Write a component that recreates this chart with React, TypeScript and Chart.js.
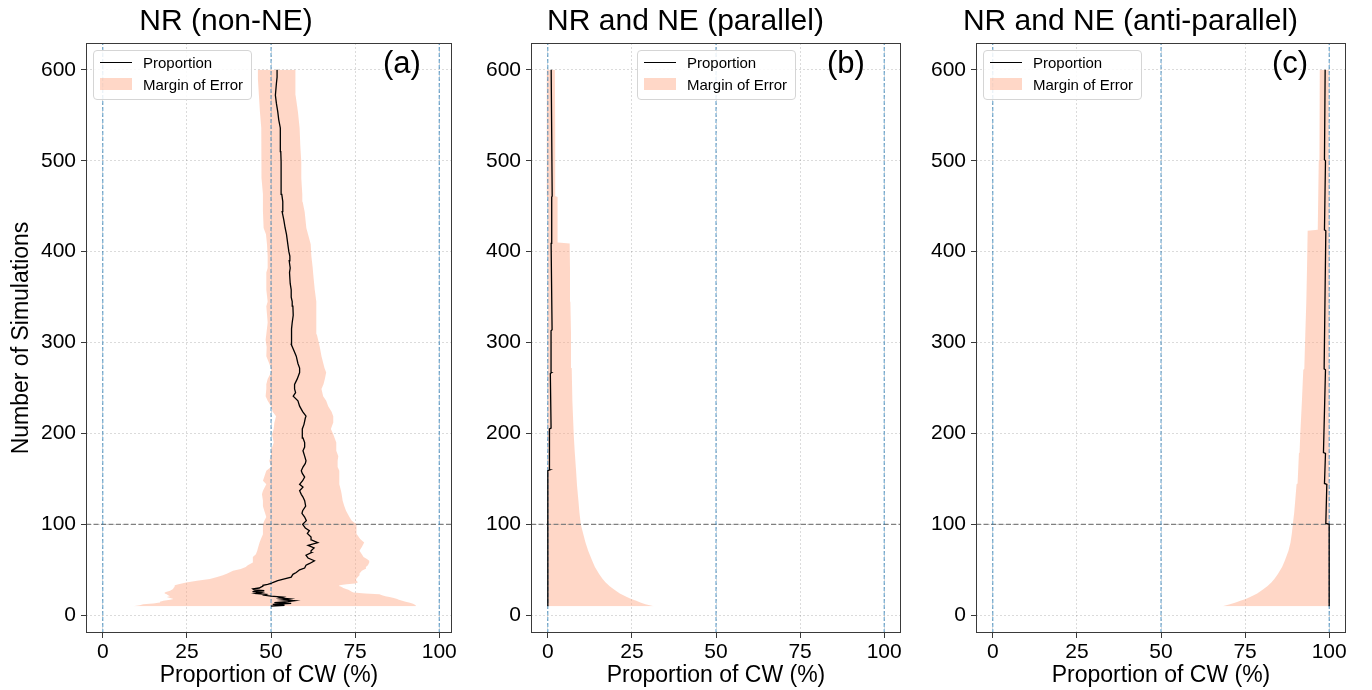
import React, { useEffect, useRef } from "react";
import { Chart, registerables } from "chart.js";

Chart.register(...registerables);

const FONT = '"Liberation Sans", Arial, Helvetica, sans-serif';
const BAND_COLOR = "rgba(255,160,122,0.42)";
const REF_BLUE = "rgba(31,119,180,0.75)";
const REF_GRAY = "#808080";
const GRID_COLOR = "rgba(0,0,0,0.14)";
const AXIS_COLOR = "#3a3a3a";

// ---- axes / labels ----
const X_TICKS = [0, 25, 50, 75, 100];
const Y_TICKS = [0, 100, 200, 300, 400, 500, 600];
const Y_MIN = -19.5;
const Y_MAX = 629.5;
const REF_X = [0, 50, 100];
const REF_Y = 100;
const X_LABEL = "Proportion of CW (%)";
const Y_LABEL = "Number of Simulations";
const LEGEND_LINE = "Proportion";
const LEGEND_BAND = "Margin of Error";
const TITLES = ["NR (non-NE)", "NR and NE (parallel)", "NR and NE (anti-parallel)"];
const PANEL_TAGS = ["(a)", "(b)", "(c)"];

// ---- panel (a): [simulations, proportion %] ----
const A_PROPORTION: [number, number][] = [
  [10, 50], [11, 54], [12, 50.5], [13, 56], [14, 51], [15, 55], [16, 57], [17, 53.5],
  [18, 55.5], [19, 52.5], [20, 53.5], [21, 50], [22, 48], [23, 48.6], [24, 45.5], [25, 47],
  [26, 44.5], [27, 48], [28, 45], [29, 44.6], [30, 46.5], [31, 47], [32, 47.6], [33, 47.6],
  [34, 49], [35, 50], [36, 50.5], [38, 52], [40, 54], [42, 56], [45, 56.5], [47, 57.5],
  [50, 58.5], [52, 60], [55, 60.4], [57, 61.5], [60, 62.9], [63, 61], [66, 60.4], [69, 62],
  [71, 61.9], [74, 62.8], [77, 61], [80, 63.9], [83, 62], [86, 61.9], [90, 60.8], [93, 61.4],
  [96, 60.2], [100, 59.4], [104, 60.5], [108, 60], [112, 59.2], [115, 59.4], [120, 60.3],
  [126, 60], [130, 59.5], [133, 59], [137, 58.5], [141, 59.5], [144, 58.5], [148, 59.4],
  [152, 60], [156, 59.3], [159, 59], [163, 59.5], [167, 60.2], [170, 60.4], [175, 60],
  [181, 59.5], [185, 60], [190, 60], [195, 59.5], [199, 59.3], [205, 59.3], [210, 59.8],
  [217, 60.2], [219, 60.4], [224, 59.4], [230, 58.5], [236, 58], [241, 56.6], [245, 57.3],
  [249, 57], [254, 57], [260, 57.8], [267, 58.5], [272, 58.5], [277, 58], [285, 57.5],
  [292, 56.7], [298, 56], [303, 56.1], [309, 56], [315, 56.2], [322, 56.3], [330, 56.6],
  [340, 56.5], [345, 56.3], [350, 56], [358, 56], [365, 55.7], [377, 55.5], [382, 55.7],
  [390, 55.4], [395, 55.6], [400, 55.3], [408, 55], [419, 54.6], [426, 54.2], [435, 53.8],
  [444, 53.3], [455, 53.5], [463, 53.2], [481, 53], [499, 53], [510, 52.9], [517, 52.8],
  [527, 52.8], [536, 52.7], [545, 52.3], [554, 52], [563, 51.6], [572, 51.3], [585, 51.6],
  [592, 51.8], [600, 51.8],
];
// [simulations, lower %, upper %]
const A_MARGIN: [number, number, number][] = [
  [10, 9, 93.1], [11, 11, 93], [12, 12, 92.5], [13, 15, 92], [14, 17, 91], [15, 17, 90],
  [16, 18, 89], [17, 20, 88], [18, 21, 87.5], [19, 20, 86.5], [20, 19, 85.2], [21, 20, 84],
  [22, 19.4, 83], [23, 19, 82.2], [24, 18.4, 78], [25, 18.4, 74.5], [26, 19, 74],
  [27, 20, 73.5], [28, 20.5, 73], [29, 20.9, 72.3], [30, 21, 71.5], [31, 21.2, 71],
  [32, 21.4, 70.5], [33, 21.4, 70.3], [34, 22.5, 72.5], [35, 23.5, 75], [36, 24.8, 75.8],
  [38, 28, 75.5], [40, 31.8, 75.3], [42, 34, 75.8], [44, 35.7, 76.3], [46, 37, 76.3],
  [49, 38.7, 77], [51, 41, 78], [53, 42.5, 78.2], [55, 43.1, 78.8], [58, 44.6, 79.2],
  [60, 44.6, 79.2], [62, 44.6, 78.5], [64, 44.6, 77.5], [67, 45.5, 77], [71, 45.9, 76.3],
  [75, 46.2, 77], [80, 46.6, 77.7], [84, 47, 76.5], [89, 47.6, 75.5], [93, 47.6, 75.5],
  [100, 47.6, 75.3], [104, 48, 74], [108, 48.6, 73.3], [115, 48, 72.3], [120, 47.6, 71.8],
  [126, 47.6, 71.3], [133, 47.3, 71], [137, 47.6, 70.8], [144, 48.6, 70.3], [148, 47.6, 70.3],
  [159, 48.6, 70.3], [163, 50, 69.8], [170, 49.5, 69.8], [175, 50, 70], [181, 50, 69.4],
  [190, 50.8, 69.4], [199, 50.3, 68.5], [205, 50.8, 67.8], [212, 51, 68.5], [219, 51.5, 68.5],
  [224, 50.5, 68], [230, 50, 67], [236, 49, 66.4], [241, 48.4, 65.5], [249, 48.6, 65],
  [254, 48.6, 65.6], [260, 49, 66], [267, 50, 66.4], [272, 50, 65.9], [285, 48.6, 65],
  [295, 48.7, 64.5], [303, 48.4, 64], [309, 48.6, 63.6], [322, 49, 63.5], [340, 48.6, 63.5],
  [345, 49, 63.4], [358, 48.6, 63], [377, 48.6, 62.5], [382, 49, 62.4], [395, 49, 62],
  [408, 48.8, 61.8], [419, 48.5, 61], [426, 47.8, 60.5], [444, 47.6, 60], [455, 47.6, 59.4],
  [463, 47.6, 59.3], [481, 47.3, 59], [499, 47.1, 59], [517, 47.1, 58.7], [536, 47.1, 58.5],
  [554, 46.7, 58], [572, 46.4, 57.3], [590, 46.1, 57.2], [600, 46.1, 57.3],
];

// ---- panel (b) ----
const B_PROPORTION: [number, number][] = [
  [10, 0], [159, 0], [160, 0.63], [205, 0.49], [206, 0.97], [266, 0.75], [267, 1.12],
  [313, 0.96], [314, 1.27], [409, 0.98], [410, 1.22], [460, 1.09], [461, 1.3], [600, 1.0],
];
const B_MARGIN: [number, number, number][] = [
  [10, 0, 31.5], [12, 0, 29], [14, 0, 27.5], [16, 0, 26.3], [18, 0, 24.8], [20, 0, 23.5],
  [24, 0, 21.4], [28, 0, 19.8], [32, 0, 18.4], [36, 0, 17.2], [40, 0, 16.3], [45, 0, 15.3],
  [53, 0, 14], [60, 0, 13.2], [71, 0, 12], [80, 0, 11.2], [90, 0, 10.5], [100, 0, 9.8],
  [113, 0, 9.4], [126, 0, 9.1], [142, 0, 8.7], [159, 0, 8.4], [180, 0, 8], [199, 0, 7.7],
  [236, 0, 7.3], [272, 0, 7.1], [309, 0, 6.9], [345, 0, 6.7], [380, 0, 6.6], [409, 0, 6.5],
  [410, 0, 3.0], [460, 0, 2.9], [461, -0.3, 2.3], [530, -0.3, 2.2], [600, -0.3, 2.1],
];

// ---- panel (c) ----
const C_PROPORTION: [number, number][] = [
  [10, 100], [100, 100], [101, 99.0], [144, 99.3], [145, 98.6], [178, 98.9], [179, 98.3],
  [270, 98.9], [271, 98.5], [423, 99.0], [424, 98.6], [500, 98.9], [501, 98.6], [600, 98.8],
];
const C_MARGIN: [number, number, number][] = [
  [10, 68.3, 100], [12, 70.5, 100], [14, 72.2, 100], [16, 73.6, 100], [18, 75.2, 100],
  [20, 76.5, 100], [24, 78.6, 100], [28, 80.2, 100], [32, 81.6, 100], [36, 82.8, 100],
  [40, 83.7, 100], [45, 84.7, 100], [53, 86, 100], [60, 86.8, 100], [71, 87.9, 100],
  [80, 88.5, 100], [90, 88.9, 100], [100, 89.2, 100], [113, 89.6, 100], [126, 89.9, 100],
  [144, 90.3, 100], [145, 90.6, 100], [178, 91, 100], [179, 91.2, 100], [199, 91.4, 100],
  [236, 91.9, 100], [270, 92.3, 100], [271, 92.6, 100], [309, 92.9, 100], [345, 93.2, 100],
  [380, 93.4, 100], [423, 93.6, 100], [424, 96.6, 100], [500, 96.9, 100], [501, 97.1, 99.9],
  [600, 97.2, 99.9],
];

type PanelCfg = {
  title: string;
  tag: string;
  line: [number, number][];
  band: [number, number, number][];
  xMin: number;
  xMax: number;
  canvasLeft: number;
  canvasWidth: number;
  yAxisWidth: number;
  padRight: number;
  showYTitle: boolean;
  legendLeft: number;
  tagCenter: number;
};

const PANELS: PanelCfg[] = [
  { title: TITLES[0], tag: PANEL_TAGS[0], line: A_PROPORTION, band: A_MARGIN, xMin: -5, xMax: 103.8,
    canvasLeft: 0, canvasWidth: 465, yAxisWidth: 86, padRight: 13, showYTitle: true, legendLeft: 93, tagCenter: 402 },
  { title: TITLES[1], tag: PANEL_TAGS[1], line: B_PROPORTION, band: B_MARGIN, xMin: -5, xMax: 105,
    canvasLeft: 470, canvasWidth: 445, yAxisWidth: 61, padRight: 14, showYTitle: false, legendLeft: 637, tagCenter: 846 },
  { title: TITLES[2], tag: PANEL_TAGS[2], line: C_PROPORTION, band: C_MARGIN, xMin: -5, xMax: 105,
    canvasLeft: 915, canvasWidth: 445, yAxisWidth: 61, padRight: 14, showYTitle: false, legendLeft: 983, tagCenter: 1290 },
];

const framePlugin = {
  id: "frame",
  afterDraw(chart: any) {
    const { ctx, chartArea: a } = chart;
    ctx.save();
    ctx.strokeStyle = AXIS_COLOR;
    ctx.lineWidth = 1;
    ctx.strokeRect(Math.round(a.left) + 0.5, Math.round(a.top) + 0.5,
      Math.round(a.right - a.left) - 1, Math.round(a.bottom - a.top) - 1);
    ctx.restore();
  },
};

function Panel({ cfg }: { cfg: PanelCfg }) {
  const ref = useRef<HTMLCanvasElement>(null);
  useEffect(() => {
    const canvas = ref.current;
    if (!canvas) return;
    const tickFont = { family: FONT, size: 21 };
    const titleFont = { family: FONT, size: 23 };
    const datasets: any[] = [
      ...REF_X.map((v) => ({
        data: [{ x: v, y: Y_MIN }, { x: v, y: Y_MAX }],
        borderColor: REF_BLUE, borderWidth: 1, borderDash: [4, 2], pointRadius: 0, fill: false, order: 1,
      })),
      {
        data: [{ x: cfg.xMin, y: REF_Y }, { x: cfg.xMax, y: REF_Y }],
        borderColor: REF_GRAY, borderWidth: 1.1, borderDash: [5, 2.5], pointRadius: 0, fill: false, order: 1,
      },
      {
        data: cfg.band.map((b) => ({ x: b[1], y: b[0] })),
        borderColor: "transparent", borderWidth: 0, pointRadius: 0, fill: false, order: 3,
      },
      {
        data: cfg.band.map((b) => ({ x: b[2], y: b[0] })),
        borderColor: "transparent", borderWidth: 0, pointRadius: 0, fill: "-1",
        backgroundColor: BAND_COLOR, order: 3,
      },
      {
        data: cfg.line.map((p) => ({ x: p[1], y: p[0] })),
        borderColor: "#000", borderWidth: 1.3, pointRadius: 0, fill: false, order: 0,
      },
    ];
    const chart = new Chart(canvas, {
      type: "line",
      data: { datasets },
      options: {
        animation: false,
        responsive: false,
        indexAxis: "y",
        layout: { padding: { left: 0, right: cfg.padRight, top: 0, bottom: 0 } },
        elements: { line: { tension: 0 } },
        plugins: {
          legend: { display: false },
          tooltip: { enabled: false },
          title: {
            display: true, text: cfg.title, color: "#000",
            font: { family: FONT, size: 30, weight: "normal" },
            padding: { top: 4, bottom: 3 },
          },
        },
        scales: {
          x: {
            type: "linear", min: cfg.xMin, max: cfg.xMax,
            afterBuildTicks: (ax: any) => { ax.ticks = X_TICKS.map((v) => ({ value: v })); },
            afterFit: (s: any) => { s.height = 57; },
            ticks: { font: tickFont, color: "#000", padding: 2, autoSkip: false, maxRotation: 0 },
            grid: { color: GRID_COLOR, tickColor: AXIS_COLOR, tickLength: 5, lineWidth: 1 },
            border: { display: false, dash: [2, 2] },
            title: { display: true, text: X_LABEL, color: "#000", font: titleFont, padding: { top: 0, bottom: 1 } },
          },
          y: {
            type: "linear", min: Y_MIN, max: Y_MAX,
            afterBuildTicks: (ax: any) => { ax.ticks = Y_TICKS.map((v) => ({ value: v })); },
            afterFit: (s: any) => { s.width = cfg.yAxisWidth; },
            ticks: { font: tickFont, color: "#000", padding: 5, autoSkip: false },
            grid: { color: GRID_COLOR, tickColor: AXIS_COLOR, tickLength: 5, lineWidth: 1 },
            border: { display: false, dash: [2, 2] },
            title: { display: cfg.showYTitle, text: Y_LABEL, color: "#000", font: titleFont, padding: { top: 8, bottom: 0 } },
          },
        },
      } as any,
      plugins: [framePlugin],
    });
    return () => chart.destroy();
  }, [cfg]);
  return (
    <canvas
      ref={ref}
      width={cfg.canvasWidth}
      height={690}
      style={{ position: "absolute", left: cfg.canvasLeft, top: 0, width: cfg.canvasWidth, height: 690, display: "block" }}
    />
  );
}

function Legend({ left }: { left: number }) {
  return (
    <div style={{
      position: "absolute", left, top: 50, width: 159, height: 50, boxSizing: "border-box",
      border: "1px solid #d5d5d5", borderRadius: 4, background: "rgba(255,255,255,0.85)",
      fontFamily: FONT, fontSize: 15, color: "#000",
    }}>
      <div style={{ position: "absolute", left: 6, top: 11, width: 32, height: 0, borderTop: "1.4px solid #000" }} />
      <div style={{ position: "absolute", left: 49, top: 3, lineHeight: "18px", whiteSpace: "nowrap" }}>{LEGEND_LINE}</div>
      <div style={{ position: "absolute", left: 6, top: 27, width: 32, height: 12, background: BAND_COLOR }} />
      <div style={{ position: "absolute", left: 49, top: 25, lineHeight: "18px", whiteSpace: "nowrap" }}>{LEGEND_BAND}</div>
    </div>
  );
}

export default function App() {
  return (
    <div style={{ position: "absolute", left: 0, top: 0, width: 1372, height: 690, background: "#fff", overflow: "hidden" }}>
      {PANELS.map((p, i) => (
        <React.Fragment key={i}>
          <Panel cfg={p} />
          <Legend left={p.legendLeft} />
          <div style={{
            position: "absolute", left: p.tagCenter - 50, top: 47, width: 100, textAlign: "center",
            fontFamily: FONT, fontSize: 31, lineHeight: "31px", color: "#000",
          }}>{p.tag}</div>
        </React.Fragment>
      ))}
    </div>
  );
}
